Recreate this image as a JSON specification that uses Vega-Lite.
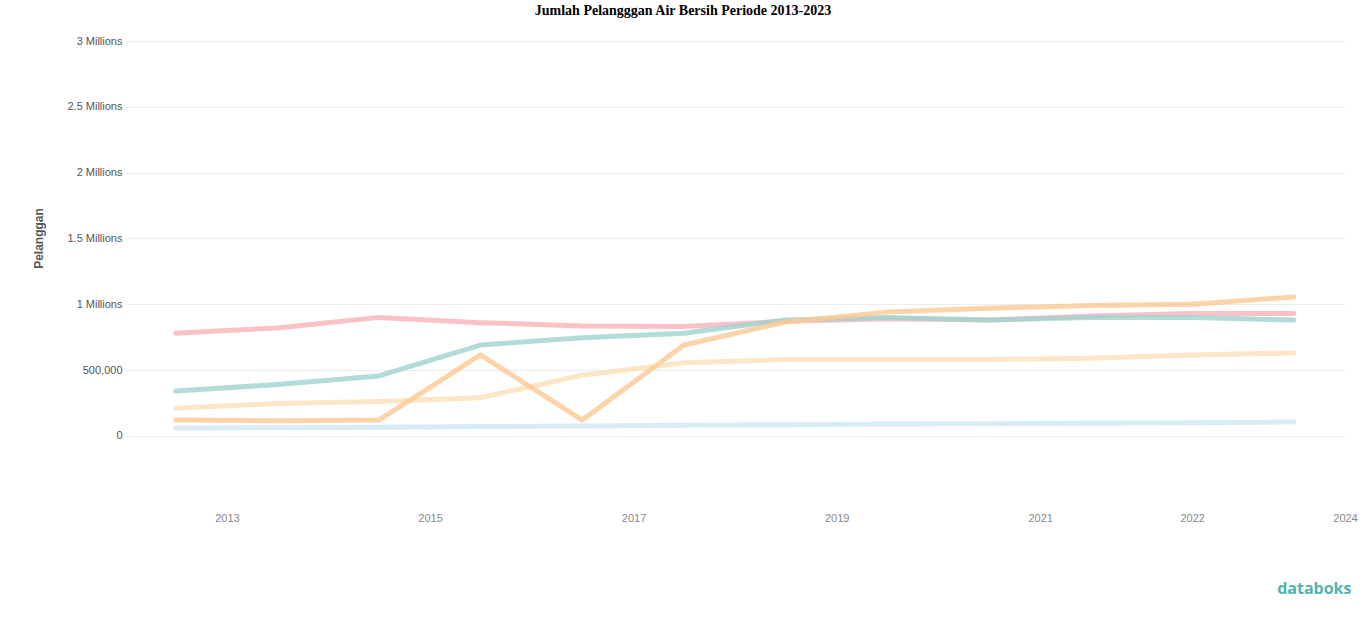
{
  "$schema": "https://vega.github.io/schema/vega-lite/v6.json",
  "autosize": {"type": "none"},
  "width": 1220,
  "height": 458,
  "padding": {"left": 125, "top": 41, "right": 21, "bottom": 118},
  "background": "white",
  "title": {
    "text": "Jumlah Pelangggan Air Bersih Periode 2013-2023",
    "font": "Liberation Serif",
    "fontSize": 14,
    "fontWeight": "bold",
    "color": "#000000",
    "anchor": "middle",
    "dx": -52,
    "offset": 17
  },
  "data": {
    "values": [
      {"series": "Kelompok E", "date": "2012-07-01", "value": 60000},
      {"series": "Kelompok E", "date": "2013-07-01", "value": 62000},
      {"series": "Kelompok E", "date": "2014-07-01", "value": 65000},
      {"series": "Kelompok E", "date": "2015-07-01", "value": 70000},
      {"series": "Kelompok E", "date": "2016-07-01", "value": 75000},
      {"series": "Kelompok E", "date": "2017-07-01", "value": 80000},
      {"series": "Kelompok E", "date": "2018-07-01", "value": 85000},
      {"series": "Kelompok E", "date": "2019-07-01", "value": 90000},
      {"series": "Kelompok E", "date": "2020-07-01", "value": 92000},
      {"series": "Kelompok E", "date": "2021-07-01", "value": 95000},
      {"series": "Kelompok E", "date": "2022-07-01", "value": 100000},
      {"series": "Kelompok E", "date": "2023-07-01", "value": 105000},

      {"series": "Kelompok D", "date": "2012-07-01", "value": 210000},
      {"series": "Kelompok D", "date": "2013-07-01", "value": 245000},
      {"series": "Kelompok D", "date": "2014-07-01", "value": 260000},
      {"series": "Kelompok D", "date": "2015-07-01", "value": 290000},
      {"series": "Kelompok D", "date": "2016-07-01", "value": 460000},
      {"series": "Kelompok D", "date": "2017-07-01", "value": 555000},
      {"series": "Kelompok D", "date": "2018-07-01", "value": 580000},
      {"series": "Kelompok D", "date": "2019-07-01", "value": 580000},
      {"series": "Kelompok D", "date": "2020-07-01", "value": 580000},
      {"series": "Kelompok D", "date": "2021-07-01", "value": 590000},
      {"series": "Kelompok D", "date": "2022-07-01", "value": 615000},
      {"series": "Kelompok D", "date": "2023-07-01", "value": 630000},

      {"series": "Kelompok C", "date": "2012-07-01", "value": 780000},
      {"series": "Kelompok C", "date": "2013-07-01", "value": 820000},
      {"series": "Kelompok C", "date": "2014-07-01", "value": 900000},
      {"series": "Kelompok C", "date": "2015-07-01", "value": 860000},
      {"series": "Kelompok C", "date": "2016-07-01", "value": 835000},
      {"series": "Kelompok C", "date": "2017-07-01", "value": 830000},
      {"series": "Kelompok C", "date": "2018-07-01", "value": 870000},
      {"series": "Kelompok C", "date": "2019-07-01", "value": 890000},
      {"series": "Kelompok C", "date": "2020-07-01", "value": 880000},
      {"series": "Kelompok C", "date": "2021-07-01", "value": 910000},
      {"series": "Kelompok C", "date": "2022-07-01", "value": 930000},
      {"series": "Kelompok C", "date": "2023-07-01", "value": 930000},

      {"series": "Kelompok B", "date": "2012-07-01", "value": 340000},
      {"series": "Kelompok B", "date": "2013-07-01", "value": 390000},
      {"series": "Kelompok B", "date": "2014-07-01", "value": 455000},
      {"series": "Kelompok B", "date": "2015-07-01", "value": 690000},
      {"series": "Kelompok B", "date": "2016-07-01", "value": 745000},
      {"series": "Kelompok B", "date": "2017-07-01", "value": 780000},
      {"series": "Kelompok B", "date": "2018-07-01", "value": 880000},
      {"series": "Kelompok B", "date": "2019-07-01", "value": 900000},
      {"series": "Kelompok B", "date": "2020-07-01", "value": 880000},
      {"series": "Kelompok B", "date": "2021-07-01", "value": 900000},
      {"series": "Kelompok B", "date": "2022-07-01", "value": 900000},
      {"series": "Kelompok B", "date": "2023-07-01", "value": 880000},

      {"series": "Kelompok A", "date": "2012-07-01", "value": 120000},
      {"series": "Kelompok A", "date": "2013-07-01", "value": 115000},
      {"series": "Kelompok A", "date": "2014-07-01", "value": 120000},
      {"series": "Kelompok A", "date": "2015-07-01", "value": 615000},
      {"series": "Kelompok A", "date": "2016-07-01", "value": 120000},
      {"series": "Kelompok A", "date": "2017-07-01", "value": 690000},
      {"series": "Kelompok A", "date": "2018-07-01", "value": 865000},
      {"series": "Kelompok A", "date": "2019-07-01", "value": 940000},
      {"series": "Kelompok A", "date": "2020-07-01", "value": 970000},
      {"series": "Kelompok A", "date": "2021-07-01", "value": 990000},
      {"series": "Kelompok A", "date": "2022-07-01", "value": 1000000},
      {"series": "Kelompok A", "date": "2023-07-01", "value": 1055000}
    ]
  },
  "mark": {"type": "line", "strokeWidth": 5, "strokeCap": "round", "strokeJoin": "round", "opacity": 0.8},
  "encoding": {
    "x": {
      "field": "date",
      "type": "temporal",
      "scale": {"domain": [{"year": 2012, "month": 1, "date": 1}, {"year": 2024, "month": 1, "date": 1}]},
      "axis": {
        "title": "databoks",
        "titleFont": "Open Sans",
        "titleFontSize": 16,
        "titleFontWeight": "bold",
        "titleColor": "#4fb3ae",
        "titleAnchor": "end",
        "titleX": 1226,
        "titleAlign": "right",
        "titlePadding": 57,
        "values": [
          {"year": 2013, "month": 1, "date": 1},
          {"year": 2015, "month": 1, "date": 1},
          {"year": 2017, "month": 1, "date": 1},
          {"year": 2019, "month": 1, "date": 1},
          {"year": 2021, "month": 1, "date": 1},
          {"year": 2022, "month": 7, "date": 1},
          {"year": 2024, "month": 1, "date": 1}
        ],
        "format": "%Y",
        "grid": false,
        "domain": false,
        "ticks": false,
        "labelPadding": 13,
        "labelFont": "Liberation Sans",
        "labelFontSize": 11,
        "labelColor": "#888888",
        "labelOverlap": false,
        "labelFlush": false
      }
    },
    "y": {
      "field": "value",
      "type": "quantitative",
      "scale": {"domain": [-480000, 3000000], "nice": false, "zero": false},
      "axis": {
        "title": "Pelanggan",
        "titleFont": "Liberation Sans",
        "titleFontSize": 12,
        "titleColor": "#555555",
        "titleFontWeight": "bold",
        "titleX": -87,
        "titleY": 197,
        "titleAngle": -90,
        "titleAlign": "center",
        "titleBaseline": "middle",
        "values": [0, 500000, 1000000, 1500000, 2000000, 2500000, 3000000],
        "labelExpr": "datum.value == 0 ? '0' : datum.value < 1000000 ? format(datum.value, ',') : format(datum.value / 1000000, '~g') + ' Millions'",
        "grid": true,
        "gridColor": "#ececec",
        "gridWidth": 1,
        "domain": false,
        "ticks": false,
        "labelPadding": 3,
        "labelFont": "Liberation Sans",
        "labelFontSize": 11,
        "labelColor": "#555555"
      }
    },
    "color": {
      "field": "series",
      "type": "nominal",
      "scale": {
        "domain": ["Kelompok E", "Kelompok D", "Kelompok C", "Kelompok B", "Kelompok A"],
        "range": ["#cfe6f3", "#fde0b8", "#f9b3b8", "#9dd3ce", "#fcc995"]
      },
      "legend": null
    },
    "order": {"field": "series", "sort": "descending"}
  },
  "config": {"view": {"stroke": null}}
}
